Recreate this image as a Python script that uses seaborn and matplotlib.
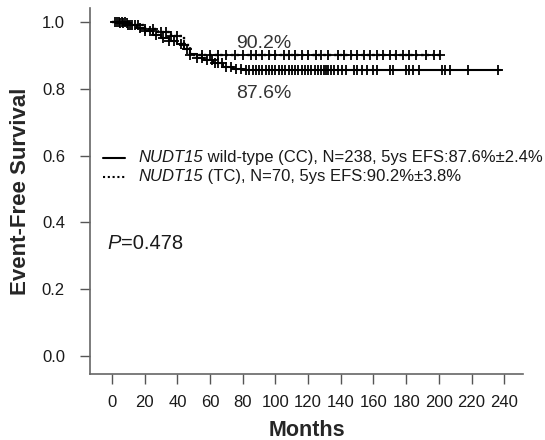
import numpy as np
import pandas as pd
import matplotlib
matplotlib.use("Agg")
import matplotlib.pyplot as plt
import seaborn as sns

# ---- data ----
times_cc = [0, 5, 10, 15, 20, 25, 30, 35, 40, 44, 48, 52, 56, 62, 68, 74, 80, 238]
surv_cc = [1.0, 0.996, 0.99, 0.982, 0.972, 0.962, 0.952, 0.944, 0.935, 0.92, 0.905,
           0.893, 0.885, 0.876, 0.866, 0.86, 0.856, 0.856]
censor_cc = [3, 5, 7, 9, 11, 14, 17, 20, 23, 27, 31, 35, 38, 42, 46, 52, 55, 58, 61, 63,
             65, 67, 70, 73, 76, 79, 82, 84, 86, 88, 90, 92, 94, 96, 98, 100, 102, 104,
             106, 108, 110, 112, 114, 116, 118, 120, 122, 124, 126, 128, 130, 131, 132,
             134, 136, 138, 141, 143, 148, 150, 153, 156, 160, 162, 170, 172, 180, 182,
             184, 188, 202, 204, 207, 218, 236]

times_tc = [0, 10, 20, 28, 36, 44, 48, 201]
surv_tc = [1.0, 0.99, 0.98, 0.97, 0.958, 0.93, 0.902, 0.902]
censor_tc = [2, 4, 6, 8, 10, 12, 16, 20, 25, 30, 33, 36, 40, 44, 48, 55, 60, 65, 70, 75,
             80, 85, 88, 92, 96, 100, 105, 108, 112, 116, 120, 125, 128, 132, 138, 142,
             146, 150, 154, 158, 162, 166, 170, 174, 178, 182, 186, 192, 197, 201]

xticks = list(range(0, 241, 20))
yticks = [0.0, 0.2, 0.4, 0.6, 0.8, 1.0]
label_cc = ("NUDT15", " wild-type (CC), N=238, 5ys EFS:87.6%\u00b12.4%")
label_tc = ("NUDT15", " (TC), N=70, 5ys EFS:90.2%\u00b13.8%")
ann_tc = "90.2%"
ann_cc = "87.6%"
p_text = "=0.478"

sns.set_style("ticks")
plt.rcParams["font.family"] = ["Liberation Sans", "DejaVu Sans"]

fig = plt.figure(figsize=(5.45, 4.4), dpi=100)
ax = fig.add_axes([90 / 545, 66 / 440, 433 / 545, 366 / 440])


def step_at(ts, ss, t):
    idx = np.searchsorted(ts, t, side="right") - 1
    return ss[idx]


df_cc = pd.DataFrame({"t": times_cc, "s": surv_cc})
df_tc = pd.DataFrame({"t": times_tc, "s": surv_tc})
sns.lineplot(data=df_cc, x="t", y="s", ax=ax, color="black", lw=1.5,
             drawstyle="steps-post", estimator=None, sort=False)
sns.lineplot(data=df_tc, x="t", y="s", ax=ax, color="black", lw=1.7,
             linestyle=(0, (1, 1.3)), drawstyle="steps-post", estimator=None, sort=False)

cc_c = pd.DataFrame({"t": censor_cc,
                     "s": [step_at(np.array(times_cc), np.array(surv_cc), t) for t in censor_cc]})
tc_c = pd.DataFrame({"t": censor_tc,
                     "s": [step_at(np.array(times_tc), np.array(surv_tc), t) for t in censor_tc]})
sns.scatterplot(data=cc_c, x="t", y="s", ax=ax, marker="+", color="black", s=55,
                linewidth=1.3)
sns.scatterplot(data=tc_c, x="t", y="s", ax=ax, marker="+", color="black", s=55,
                linewidth=1.3)

ax.set_xlim(-13.5, 251.5)
ax.set_ylim(-0.054, 1.042)
ax.set_xticks(xticks)
ax.set_yticks(yticks)
ax.set_yticklabels([f"{v:.1f}" for v in yticks])
ax.tick_params(axis="both", direction="out", length=7, width=1, color="#555555",
               labelsize=12, labelcolor="#1a1a1a")
ax.tick_params(axis="y", pad=11)
ax.tick_params(axis="x", pad=8)
for side in ["top", "right"]:
    ax.spines[side].set_visible(False)
for side in ["left", "bottom"]:
    ax.spines[side].set_color("#666666")
    ax.spines[side].set_linewidth(1.2)

ax.set_xlabel("Months", fontsize=15.5, fontweight="bold", labelpad=7)
ax.set_ylabel("Event-Free Survival", fontsize=16, fontweight="bold", labelpad=8)

ax.text(93, 0.935, ann_tc, fontsize=14, ha="center", va="center", color="#333333")
ax.text(93, 0.785, ann_cc, fontsize=14, ha="center", va="center", color="#333333")

# legend drawn in data coordinates
ax.plot([-5.5, 8], [0.593, 0.593], color="black", lw=1.5, clip_on=False)
ax.plot([-5.5, 8], [0.536, 0.536], color="black", lw=1.5, linestyle=(0, (1, 1.3)),
        clip_on=False)
for y, lab in [(0.593, label_cc), (0.536, label_tc)]:
    t1 = ax.text(16, y, lab[0], fontsize=12, style="italic", va="center",
                 color="#1a1a1a", clip_on=False)
    ax.annotate(lab[1], xy=(1, 0.5), xycoords=t1, va="center", fontsize=12,
                color="#1a1a1a", annotation_clip=False)

tp = ax.text(-3, 0.338, "P", fontsize=14.5, style="italic", va="center", color="#1a1a1a")
ax.annotate(p_text, xy=(1, 0.5), xycoords=tp, va="center", fontsize=14.5, color="#1a1a1a")

fig.savefig("out.png", dpi=100)
